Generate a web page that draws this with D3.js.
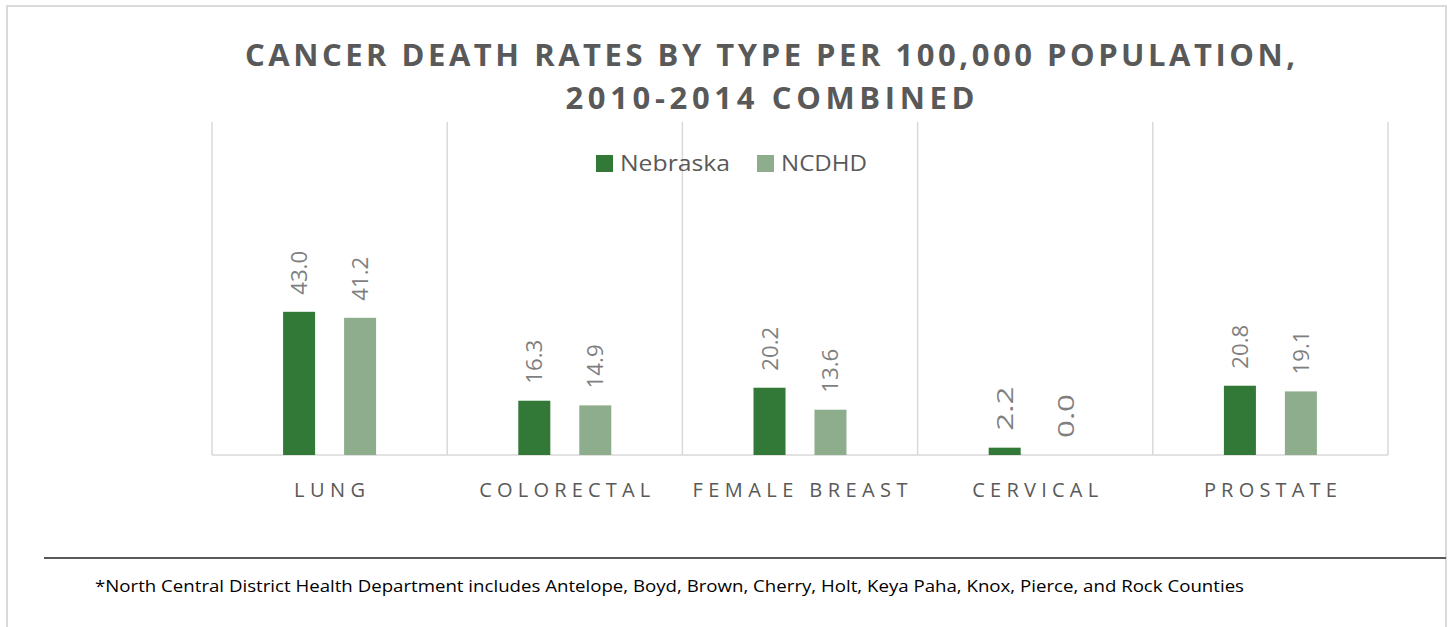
<!DOCTYPE html>
<html><head><meta charset="utf-8">
<script src="https://cdn.jsdelivr.net/npm/d3@7"></script>
<style>body{margin:0;background:#fff}svg{display:block}</style>
</head><body>
<svg id="c" width="1450" height="627"></svg>
<script>
const categories = ["LUNG","COLORECTAL","FEMALE BREAST","CERVICAL","PROSTATE"];
const seriesNames = ["Nebraska","NCDHD"];
const nebraska = [43.0,16.3,20.2,2.2,20.8];
const ncdhd = [41.2,14.9,13.6,0.0,19.1];
const titleLines = ["CANCER DEATH RATES BY TYPE PER 100,000 POPULATION,","2010-2014 COMBINED"];
const footnote = "*North Central District Health Department includes Antelope, Boyd, Brown, Cherry, Holt, Keya Paha, Knox, Pierce, and Rock Counties";
const colors = ["#327836","#8EAD8C"];

const svg = d3.select("#c");
// outer border
svg.append("rect").attr("x",7).attr("y",6).attr("width",1439).attr("height",640)
  .attr("fill","none").attr("stroke","#d9d9d9").attr("stroke-width",2);

// title
const titleLens=[1050,409];
svg.selectAll("text.title").data(titleLines).join("text").attr("class","title")
  .attr("x",770).attr("y",(d,i)=>66+i*43).attr("text-anchor","middle")
  .attr("font-family","Open Sans").attr("font-weight",700).attr("font-size",31)
  .attr("fill","#595959").attr("textLength",(d,i)=>titleLens[i]).attr("lengthAdjust","spacing")
  .text(d=>d);

const x0=212,x1=1388,yBase=455,yTop=122;
const x = d3.scaleBand().domain(categories).range([x0,x1]).padding(0);
const xi = d3.scaleBand().domain(seriesNames).range([0,x.bandwidth()]).paddingInner(0.475).paddingOuter(1.166);
const y = d3.scaleLinear().domain([0,100]).range([yBase,yTop]);

// vertical gridlines
const gl = d3.range(categories.length+1).map(i=> i<categories.length ? x(categories[i]) : x1);
svg.selectAll("line.grid").data(gl).join("line").attr("class","grid")
  .attr("x1",d=>d).attr("x2",d=>d).attr("y1",yTop).attr("y2",yBase)
  .attr("stroke","#d9d9d9").attr("stroke-width",1.5);
// baseline
svg.append("line").attr("x1",x0).attr("x2",x1).attr("y1",yBase).attr("y2",yBase)
  .attr("stroke","#d9d9d9").attr("stroke-width",1.5);

const data=[];
categories.forEach((c,i)=>{data.push({c,s:"Nebraska",v:nebraska[i],k:0});data.push({c,s:"NCDHD",v:ncdhd[i],k:1});});

svg.selectAll("rect.bar").data(data).join("rect").attr("class","bar")
  .attr("x",d=>x(d.c)+xi(d.s)).attr("width",xi.bandwidth())
  .attr("y",d=>y(d.v)).attr("height",d=>yBase-y(d.v))
  .attr("fill",d=>colors[d.k]);

svg.selectAll("text.lbl").data(data).join("text").attr("class","lbl")
  .attr("transform",d=>`translate(${x(d.c)+xi(d.s)+xi.bandwidth()/2+8},${y(d.v)-17}) rotate(-90)`)
  .attr("font-family","Open Sans").attr("font-weight",400).attr("font-size",22)
  .attr("fill","#7f7f7f").attr("textLength",44).attr("lengthAdjust","spacingAndGlyphs")
  .text(d=>d.v.toFixed(1));

// category labels
const catLens=[71,171,215,126,133];
svg.selectAll("text.cat").data(categories).join("text").attr("class","cat")
  .attr("x",d=>x(d)+x.bandwidth()/2).attr("y",497).attr("text-anchor","middle")
  .attr("font-family","Open Sans").attr("font-weight",400).attr("font-size",20)
  .attr("fill","#595959").attr("textLength",(d,i)=>catLens[i]).attr("lengthAdjust","spacing")
  .text(d=>d);

// legend
const legX=[596,757], legT=[110,86];
const lg = svg.selectAll("g.leg").data(seriesNames).join("g").attr("class","leg");
lg.append("rect").attr("x",(d,i)=>legX[i]).attr("y",155).attr("width",17).attr("height",17).attr("fill",(d,i)=>colors[i]);
lg.append("text").attr("x",(d,i)=>legX[i]+24).attr("y",171)
  .attr("font-family","Open Sans").attr("font-size",22).attr("fill","#595959")
  .attr("textLength",(d,i)=>legT[i]).attr("lengthAdjust","spacingAndGlyphs").text(d=>d);

// footnote
svg.append("line").attr("x1",44).attr("x2",1446).attr("y1",558).attr("y2",558)
  .attr("stroke","#595959").attr("stroke-width",2);
svg.append("text").attr("x",95).attr("y",592).attr("font-family","Open Sans").attr("font-size",16.5)
  .attr("fill","#000").attr("textLength",1149).attr("lengthAdjust","spacingAndGlyphs").text(footnote);
</script>
</body></html>
